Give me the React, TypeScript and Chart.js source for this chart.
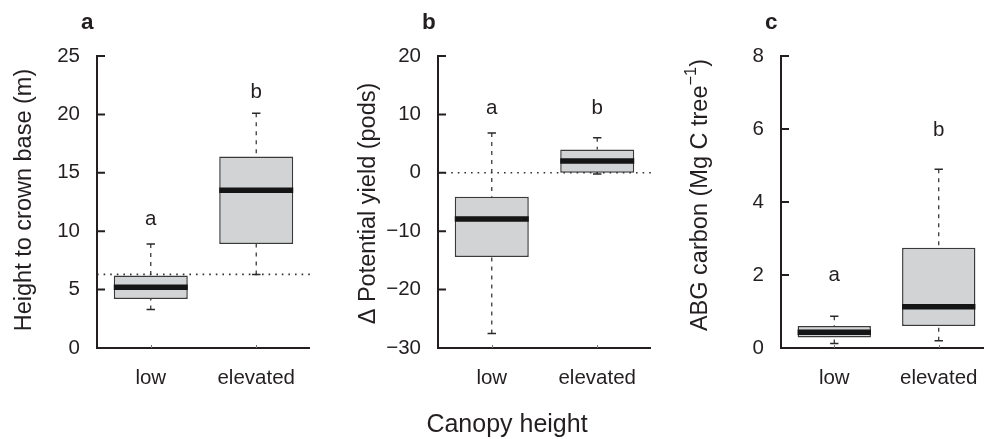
import React, { useEffect, useRef } from 'react';
import { Chart, registerables } from 'chart.js';

Chart.register(...registerables);

// ---------------- data ----------------
const CATEGORIES = ['low', 'elevated'];

// Panel a: Height to crown base (m)
const A_WHISKER_LOW = [3.3, 6.3];
const A_Q1 = [4.2, 8.9];
const A_MEDIAN = [5.2, 13.5];
const A_Q3 = [6.2, 16.4];
const A_WHISKER_HIGH = [8.9, 20.1];
const A_LETTERS = ['a', 'b'];
const A_LETTER_Y = [10.5, 21.4];
const A_REFERENCE = 6.3;
const A_TICKS = [0, 5, 10, 15, 20, 25];

// Panel b: Δ Potential yield (pods)
const B_WHISKER_LOW = [-27.5, -0.2];
const B_Q1 = [-14.4, 0];
const B_MEDIAN = [-7.9, 2.0];
const B_Q3 = [-4.1, 4.0];
const B_WHISKER_HIGH = [6.8, 6.0];
const B_LETTERS = ['a', 'b'];
const B_LETTER_Y = [10.0, 10.0];
const B_REFERENCE = 0;
const B_TICKS = [-30, -20, -10, 0, 10, 20];

// Panel c: ABG carbon (Mg C tree^-1)
const C_WHISKER_LOW = [0.12, 0.2];
const C_Q1 = [0.29, 0.6];
const C_MEDIAN = [0.43, 1.13];
const C_Q3 = [0.6, 2.75];
const C_WHISKER_HIGH = [0.87, 4.9];
const C_LETTERS = ['a', 'b'];
const C_LETTER_Y = [1.84, 5.8];
const C_TICKS = [0, 2, 4, 6, 8];

const X_TITLE = 'Canopy height';
const PANEL_TAGS = ['a', 'b', 'c'];

// ---------------- style / layout ----------------
const FONT = '"Liberation Sans", Arial, Helvetica, sans-serif';
const INK = '#231f20';
const BOX_FILL = '#d1d3d4';
const BOX_EDGE = '#3a3a3a';
const BOX_HALF = 0.351;
const CAP_HALF = 0.04;
const X_MIN = 0.49;
const X_MAX = 2.51;
const H = 439;
const PLOT_TOP = 56;
const PLOT_BOTTOM = 348;
const TICK_FONT = 20.5;
const TITLE_FONT = 23.5;

type Stats = { lo: number[]; q1: number[]; med: number[]; q3: number[]; hi: number[] };
type TitlePart = { text: string; sup?: boolean };
type PanelSpec = {
  stats: Stats;
  letters: string[];
  letterY: number[];
  reference: number | null;
  ticks: number[];
  title: TitlePart[];
  canvasLeft: number;
  canvasWidth: number;
  axisX: number;
  plotRight: number;
  titleX: number;
  titleY: number;
};

const PANELS: PanelSpec[] = [
  {
    stats: { lo: A_WHISKER_LOW, q1: A_Q1, med: A_MEDIAN, q3: A_Q3, hi: A_WHISKER_HIGH },
    letters: A_LETTERS,
    letterY: A_LETTER_Y,
    reference: A_REFERENCE,
    ticks: A_TICKS,
    title: [{ text: 'Height to crown base (m)' }],
    canvasLeft: 0,
    canvasWidth: 330,
    axisX: 97,
    plotRight: 310,
    titleX: 25,
    titleY: 200,
  },
  {
    stats: { lo: B_WHISKER_LOW, q1: B_Q1, med: B_MEDIAN, q3: B_Q3, hi: B_WHISKER_HIGH },
    letters: B_LETTERS,
    letterY: B_LETTER_Y,
    reference: B_REFERENCE,
    ticks: B_TICKS,
    title: [{ text: '\u0394 Potential yield (pods)' }],
    canvasLeft: 330,
    canvasWidth: 330,
    axisX: 438,
    plotRight: 651,
    titleX: 369,
    titleY: 203.5,
  },
  {
    stats: { lo: C_WHISKER_LOW, q1: C_Q1, med: C_MEDIAN, q3: C_Q3, hi: C_WHISKER_HIGH },
    letters: C_LETTERS,
    letterY: C_LETTER_Y,
    reference: null,
    ticks: C_TICKS,
    title: [{ text: 'ABG carbon (Mg C tree' }, { text: '\u22121', sup: true }, { text: ')' }],
    canvasLeft: 660,
    canvasWidth: 332,
    axisX: 781,
    plotRight: 992,
    titleX: 700.5,
    titleY: 195,
  },
];

const TAG_LEFT = [81, 422, 765];

function rAxesPlugin(p: PanelSpec) {
  return {
    id: 'rAxes',
    afterDatasetsDraw(chart: any) {
      const { ctx, scales } = chart;
      const x = scales.x;
      const y = scales.y;
      ctx.save();
      ctx.fillStyle = INK;
      ctx.font = `${TICK_FONT}px ${FONT}`;
      ctx.textAlign = 'center';
      ctx.textBaseline = 'alphabetic';
      p.letters.forEach((t, i) => {
        ctx.fillText(t, x.getPixelForValue(i + 1), y.getPixelForValue(p.letterY[i]));
      });
      ctx.restore();
    },
    afterDraw(chart: any) {
      const { ctx, chartArea: ca, scales } = chart;
      const x = scales.x;
      const y = scales.y;
      ctx.save();
      ctx.strokeStyle = INK;
      ctx.lineWidth = 2;
      ctx.lineCap = 'butt';
      const yTop = y.getPixelForValue(p.ticks[p.ticks.length - 1]);
      const yBot = y.getPixelForValue(p.ticks[0]);
      ctx.beginPath();
      ctx.moveTo(ca.left, yTop - 1);
      ctx.lineTo(ca.left, yBot + 1);
      p.ticks.forEach((v) => {
        const py = y.getPixelForValue(v);
        ctx.moveTo(ca.left, py);
        ctx.lineTo(ca.left + 8, py);
      });
      ctx.moveTo(ca.left - 1, ca.bottom);
      ctx.lineTo(ca.right, ca.bottom);
      ctx.stroke();
      // tiny x ticks
      ctx.lineWidth = 1;
      ctx.strokeStyle = '#777';
      ctx.beginPath();
      CATEGORIES.forEach((_, i) => {
        const px = Math.round(x.getPixelForValue(i + 1)) + 0.5;
        ctx.moveTo(px, ca.bottom);
        ctx.lineTo(px, ca.bottom - 3);
      });
      ctx.stroke();
      // y-axis title
      ctx.translate(p.titleX - p.canvasLeft, p.titleY);
      ctx.rotate(-Math.PI / 2);
      ctx.fillStyle = INK;
      ctx.textBaseline = 'middle';
      ctx.textAlign = 'left';
      const parts = p.title.map((pt) => ({
        ...pt,
        font: `${pt.sup ? TITLE_FONT * 0.7 : TITLE_FONT}px ${FONT}`,
        w: 0,
      }));
      let total = 0;
      parts.forEach((pt) => {
        ctx.font = pt.font;
        pt.w = ctx.measureText(pt.text).width;
        total += pt.w;
      });
      let cx = -total / 2;
      parts.forEach((pt) => {
        ctx.font = pt.font;
        ctx.fillText(pt.text, cx, pt.sup ? -TITLE_FONT * 0.38 : 0);
        cx += pt.w;
      });
      ctx.restore();
    },
  };
}

function buildConfig(p: PanelSpec): any {
  const s = p.stats;
  const xs = CATEGORIES.map((_, i) => i + 1);
  const boxData = xs.map((x, i) => ({ x, y: [s.q1[i], s.q3[i]] }));
  const medianData: any[] = [];
  const whiskerData: any[] = [];
  const capData: any[] = [];
  xs.forEach((x, i) => {
    medianData.push({ x: x - BOX_HALF, y: s.med[i] }, { x: x + BOX_HALF, y: s.med[i] }, { x, y: null });
    whiskerData.push(
      { x, y: s.hi[i] }, { x, y: s.q3[i] }, { x, y: null },
      { x, y: s.lo[i] }, { x, y: s.q1[i] }, { x, y: null }
    );
    capData.push(
      { x: x - CAP_HALF, y: s.hi[i] }, { x: x + CAP_HALF, y: s.hi[i] }, { x, y: null },
      { x: x - CAP_HALF, y: s.lo[i] }, { x: x + CAP_HALF, y: s.lo[i] }, { x, y: null }
    );
  });
  const lineBase = {
    type: 'line',
    pointRadius: 0,
    pointHoverRadius: 0,
    fill: false,
    tension: 0,
    spanGaps: false,
  };
  const datasets: any[] = [
    { ...lineBase, label: 'median', data: medianData, borderColor: '#151515', borderWidth: 5.5, order: 1 },
    { ...lineBase, label: 'caps', data: capData, borderColor: '#2a2a2a', borderWidth: 1.5, order: 2 },
    { ...lineBase, label: 'whiskers', data: whiskerData, borderColor: '#2a2a2a', borderWidth: 1.2, borderDash: [4, 5], order: 3 },
    {
      type: 'bar',
      label: 'box',
      data: boxData,
      backgroundColor: BOX_FILL,
      borderColor: BOX_EDGE,
      borderWidth: 1.5,
      borderSkipped: false,
      barPercentage: 2 * BOX_HALF,
      categoryPercentage: 1,
      order: 5,
    },
  ];
  if (p.reference !== null) {
    datasets.push({
      ...lineBase,
      label: 'reference',
      data: [{ x: X_MIN, y: p.reference }, { x: X_MAX, y: p.reference }],
      borderColor: '#333',
      borderWidth: 1.6,
      borderDash: [1.6, 5],
      order: 4,
    });
  }
  return {
    type: 'bar',
    data: { datasets },
    options: {
      responsive: false,
      maintainAspectRatio: false,
      animation: false,
      devicePixelRatio: 1,
      layout: {
        padding: {
          top: PLOT_TOP,
          left: 0,
          bottom: 0,
          right: p.canvasLeft + p.canvasWidth - p.plotRight,
        },
      },
      plugins: { legend: { display: false }, tooltip: { enabled: false }, title: { display: false } },
      scales: {
        x: {
          type: 'linear',
          min: X_MIN,
          max: X_MAX,
          offset: false,
          afterBuildTicks: (axis: any) => {
            axis.ticks = xs.map((v) => ({ value: v }));
          },
          afterFit: (axis: any) => {
            axis.height = H - PLOT_BOTTOM;
          },
          grid: { display: true, drawOnChartArea: false, drawTicks: true, tickLength: 18, color: 'rgba(0,0,0,0)' },
          border: { display: false },
          ticks: {
            padding: 0,
            autoSkip: false,
            maxRotation: 0,
            color: INK,
            font: { family: FONT, size: TICK_FONT },
            callback: (v: any) => CATEGORIES[Math.round(Number(v)) - 1] ?? '',
          },
        },
        y: {
          type: 'linear',
          min: p.ticks[0],
          max: p.ticks[p.ticks.length - 1],
          afterBuildTicks: (axis: any) => {
            axis.ticks = p.ticks.map((v) => ({ value: v }));
          },
          afterFit: (axis: any) => {
            axis.width = p.axisX - p.canvasLeft;
          },
          grid: { display: false, drawTicks: false },
          border: { display: false },
          ticks: {
            padding: 17,
            autoSkip: false,
            color: INK,
            font: { family: FONT, size: TICK_FONT },
            callback: (v: any) => String(v).replace('-', '\u2212'),
          },
        },
      },
    },
    plugins: [rAxesPlugin(p)],
  };
}

function BoxPanel({ spec }: { spec: PanelSpec }) {
  const ref = useRef<HTMLCanvasElement>(null);
  useEffect(() => {
    if (!ref.current) return;
    const chart = new Chart(ref.current, buildConfig(spec));
    return () => chart.destroy();
  }, [spec]);
  return (
    <canvas
      ref={ref}
      width={spec.canvasWidth}
      height={H}
      style={{ position: 'absolute', left: spec.canvasLeft, top: 0, width: spec.canvasWidth, height: H }}
    />
  );
}

export default function App() {
  return (
    <div
      style={{
        position: 'fixed',
        left: 0,
        top: 0,
        width: 984,
        height: H,
        overflow: 'hidden',
        background: '#ffffff',
      }}
    >
      {PANELS.map((p, i) => (
        <BoxPanel key={i} spec={p} />
      ))}
      {PANEL_TAGS.map((t, i) => (
        <div
          key={t}
          style={{
            position: 'absolute',
            left: TAG_LEFT[i],
            top: 11,
            fontFamily: FONT,
            fontWeight: 'bold',
            fontSize: 22.5,
            lineHeight: 1,
            color: INK,
          }}
        >
          {t}
        </div>
      ))}
      <div
        style={{
          position: 'absolute',
          left: 357,
          width: 300,
          top: 410.5,
          textAlign: 'center',
          fontFamily: FONT,
          fontSize: 25,
          lineHeight: 1,
          color: INK,
        }}
      >
        {X_TITLE}
      </div>
    </div>
  );
}
